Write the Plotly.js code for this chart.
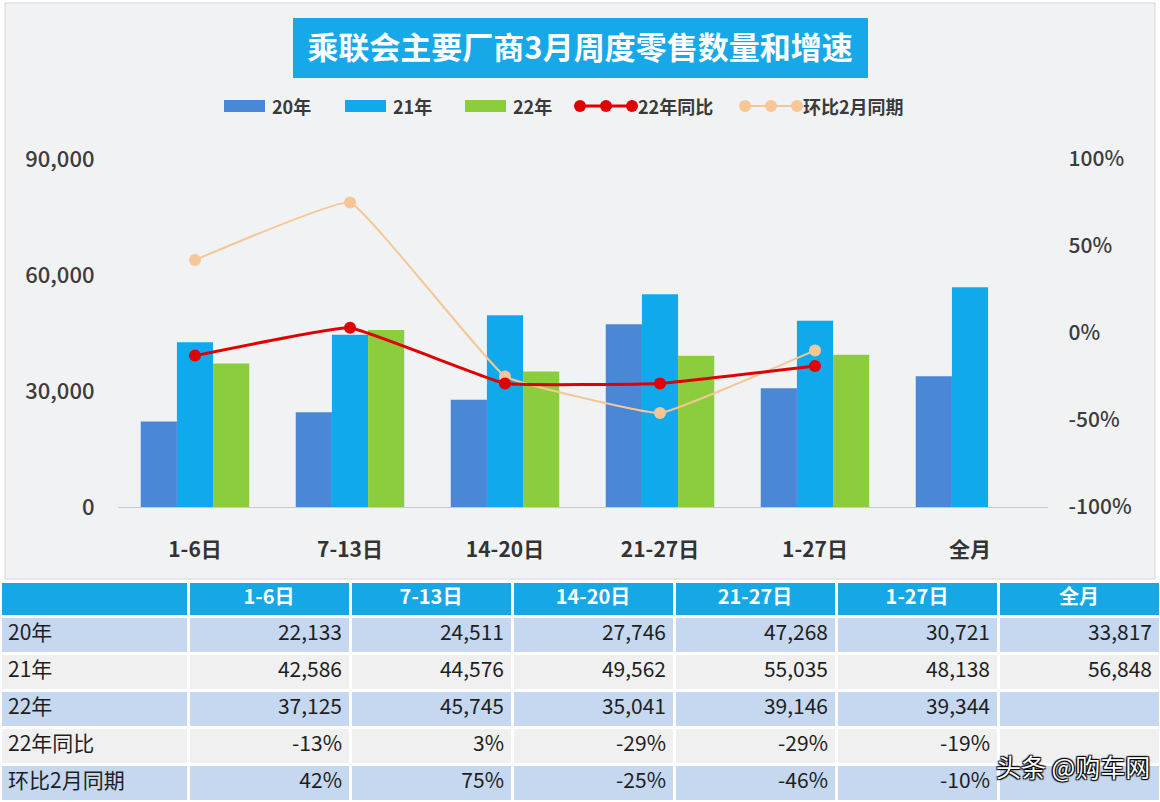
<!DOCTYPE html>
<html>
<head>
<meta charset="utf-8">
<script src="https://cdn.plot.ly/plotly-3.0.1.min.js"></script>
<style>html,body{margin:0;padding:0;background:#fff;}#chart{width:1160px;height:802px;}</style>
</head>
<body>
<div id="chart"></div>
<script>
// ---- data ----
const categories = ['1-6日', '7-13日', '14-20日', '21-27日', '1-27日', '全月'];
const sales20 = [22133, 24511, 27746, 47268, 30721, 33817];
const sales21 = [42586, 44576, 49562, 55035, 48138, 56848];
const sales22 = [37125, 45745, 35041, 39146, 39344, null];
const yoy22 = [-0.13, 0.03, -0.29, -0.29, -0.19, null];
const momFeb = [0.42, 0.75, -0.25, -0.46, -0.10, null];
const seriesNames = ['20年', '21年', '22年', '22年同比', '环比2月同期'];
const leftTicks = [0, 30000, 60000, 90000];
const rightTicks = [-1, -0.5, 0, 0.5, 1];
const chartTitle = '乘联会主要厂商3月周度零售数量和增速';
const watermark = '头条 @购车网';

// ---- style ----
const W = 1160, H = 802;
const FONT = '"Noto Sans CJK SC", "Noto Sans", sans-serif';
const C20 = '#4a87d6', C21 = '#10a9ec', C22 = '#8ccd3e', CRED = '#e00000', CORG = '#f7c696';
const px = x => x / W;
const py = y => 1 - y / H;

const fmtN = v => (v === null || v === undefined) ? '' : v.toLocaleString('en-US');
const fmtP = v => (v === null || v === undefined) ? '' : Math.round(v * 100) + '%';

const traces = [
  {type: 'bar', name: seriesNames[0], x: categories, y: sales20, marker: {color: C20}, hoverinfo: 'y'},
  {type: 'bar', name: seriesNames[1], x: categories, y: sales21, marker: {color: C21}, hoverinfo: 'y'},
  {type: 'bar', name: seriesNames[2], x: categories, y: sales22, marker: {color: C22}, hoverinfo: 'y'},
  {type: 'scatter', mode: 'lines+markers', name: seriesNames[4], x: categories, y: momFeb, yaxis: 'y2',
   line: {color: CORG, width: 2, shape: 'spline', smoothing: 0.25}, marker: {color: CORG, size: 12}, connectgaps: false},
  {type: 'scatter', mode: 'lines+markers', name: seriesNames[3], x: categories, y: yoy22, yaxis: 'y2',
   line: {color: CRED, width: 3, shape: 'spline', smoothing: 0.25}, marker: {color: CRED, size: 12}, connectgaps: false}
];

// table
const rowFills = ['#c5d8f0', '#f0f0f0', '#c5d8f0', '#f0f0f0', '#c5d8f0'];
const tableCols = [seriesNames.slice()];
const tableFill = [rowFills];
const tableAlign = ['left'];
for (let i = 0; i < categories.length; i++) {
  tableCols.push([fmtN(sales20[i]), fmtN(sales21[i]), fmtN(sales22[i]), fmtP(yoy22[i]), fmtP(momFeb[i])]);
  tableFill.push(rowFills);
  tableAlign.push('right');
}
traces.push({
  type: 'table',
  domain: {x: [0, 1], y: [0, py(581)]},
  columnwidth: [188, 162, 162, 162, 162, 162, 162],
  header: {
    values: [''].concat(categories),
    fill: {color: '#16a7e6'},
    line: {color: '#ffffff', width: 3},
    align: 'center',
    height: 35,
    font: {family: FONT, size: 20, color: '#ffffff', weight: 'bold'}
  },
  cells: {
    values: tableCols,
    fill: {color: tableFill},
    line: {color: '#ffffff', width: 3},
    align: tableAlign,
    height: 37,
    font: {family: FONT, size: 21, color: '#1e1e1e'}
  }
});

// shapes: card, title box, legend
const shapes = [
  {type: 'rect', xref: 'paper', yref: 'paper', x0: px(5), x1: px(1155), y0: py(579), y1: py(3),
   fillcolor: '#f1f2f4', line: {color: '#d6d6d6', width: 1}, layer: 'below'},
  {type: 'rect', xref: 'paper', yref: 'paper', x0: px(293), x1: px(868), y0: py(78), y1: py(18),
   fillcolor: '#16a8e8', line: {width: 0}, layer: 'below'}
];
const annotations = [];
const legY = 106;
const barLegX = [224, 345, 465];
const barLegC = [C20, C21, C22];
for (let i = 0; i < 3; i++) {
  shapes.push({type: 'rect', xref: 'paper', yref: 'paper', x0: px(barLegX[i]), x1: px(barLegX[i] + 41),
    y0: py(legY + 6), y1: py(legY - 6), fillcolor: barLegC[i], line: {width: 0}});
  annotations.push({xref: 'paper', yref: 'paper', x: px(barLegX[i] + 46), y: py(legY), xanchor: 'left', yanchor: 'middle',
    text: seriesNames[i], showarrow: false, font: {family: FONT, size: 18, color: '#3a3a3a', weight: 'bold'}});
}
const lineLegX = [580, 745];
const lineLegC = [CRED, CORG];
for (let i = 0; i < 2; i++) {
  const x0 = lineLegX[i], x1 = x0 + 52;
  shapes.push({type: 'line', xref: 'paper', yref: 'paper', x0: px(x0), x1: px(x1), y0: py(legY), y1: py(legY),
    line: {color: lineLegC[i], width: i === 0 ? 3 : 2}});
  [x0, (x0 + x1) / 2, x1].forEach(cx => {
    shapes.push({type: 'circle', xref: 'paper', yref: 'paper', x0: px(cx - 6), x1: px(cx + 6), y0: py(legY + 6), y1: py(legY - 6),
      fillcolor: lineLegC[i], line: {width: 0}});
  });
  annotations.push({xref: 'paper', yref: 'paper', x: px(x1 + 4), y: py(legY), xanchor: 'left', yanchor: 'middle',
    text: seriesNames[3 + i], showarrow: false, font: {family: FONT, size: 18, color: '#3a3a3a', weight: 'bold'}});
}
annotations.push({xref: 'paper', yref: 'paper', x: px(1152), y: py(766), xanchor: 'right', yanchor: 'middle',
  text: watermark, showarrow: false,
  font: {family: FONT, size: 25, color: '#ffffff', shadow: '1px 1px 1px #000, -1px -1px 1px #000, 1px -1px 1px #000, -1px 1px 1px #000'}});

const layout = {
  width: W, height: H,
  margin: {l: 0, r: 0, t: 0, b: 0},
  paper_bgcolor: '#ffffff',
  plot_bgcolor: 'rgba(0,0,0,0)',
  showlegend: false,
  barmode: 'group',
  bargap: 0.3,
  bargroupgap: 0,
  title: {text: chartTitle, x: 0.5, xanchor: 'center', y: py(48), yanchor: 'middle', xref: 'paper', yref: 'paper',
    font: {family: FONT, size: 31, color: '#ffffff', weight: 'bold'}},
  xaxis: {
    domain: [px(117.5), px(1047.5)],
    anchor: 'y',
    showline: true, linecolor: '#c9c9c9', linewidth: 1,
    showgrid: false, ticks: '',
    ticklabelstandoff: 24,
    tickfont: {family: FONT, size: 21, color: '#333333', weight: 'bold'}
  },
  yaxis: {
    domain: [py(507), py(159)],
    range: [0, 90000],
    tickvals: leftTicks,
    ticktext: leftTicks.map(fmtN),
    showgrid: false, zeroline: false, showline: false, ticks: '',
    ticklabelstandoff: 22,
    tickfont: {family: FONT, size: 22, color: '#3c3c3c', weight: 500}
  },
  yaxis2: {
    overlaying: 'y', side: 'right', anchor: 'x',
    range: [-1, 1],
    tickvals: rightTicks,
    ticktext: rightTicks.map(fmtP),
    showgrid: false, zeroline: false, showline: false, ticks: '',
    ticklabelstandoff: 20,
    tickfont: {family: FONT, size: 21, color: '#3c3c3c', weight: 500}
  },
  shapes: shapes,
  annotations: annotations
};

Plotly.newPlot('chart', traces, layout, {displayModeBar: false, staticPlot: true});
</script>
</body>
</html>
